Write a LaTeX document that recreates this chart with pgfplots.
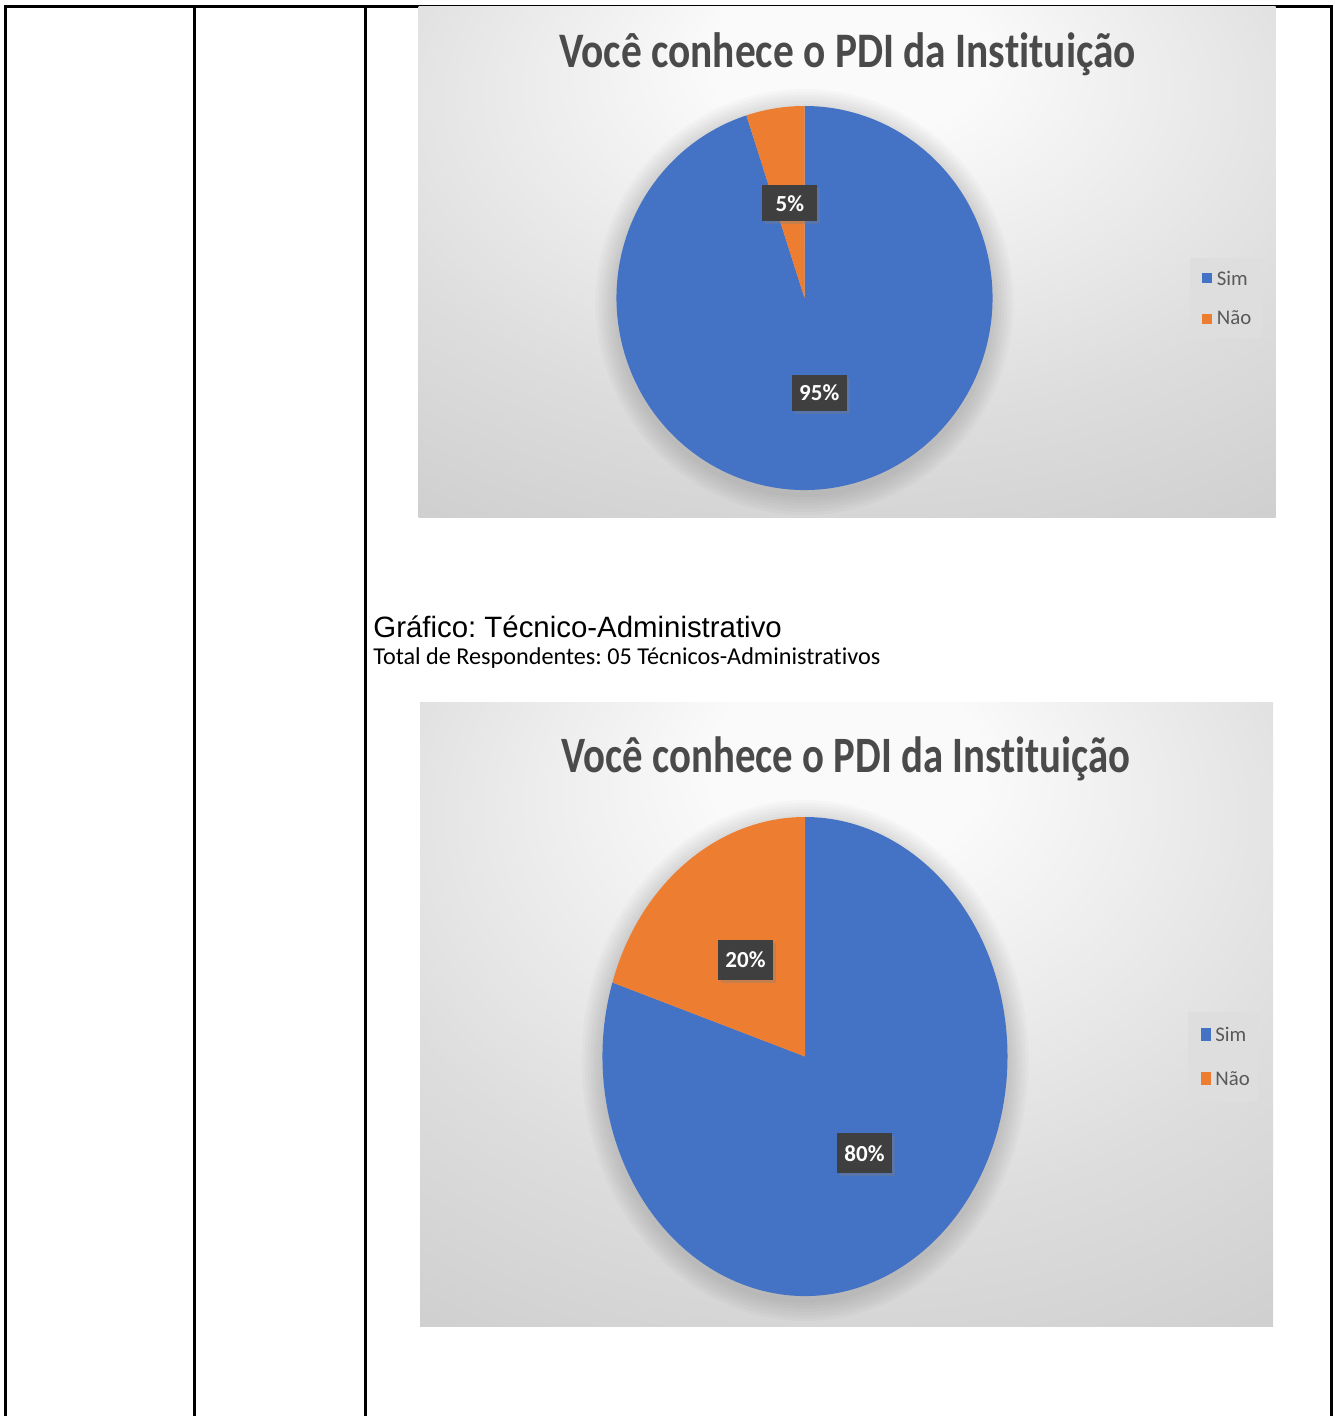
\documentclass[border=0pt]{standalone}
\usepackage{fontspec}
\setmainfont{Carlito}[Ligatures=NoCommon]
\newfontfamily\arial{Liberation Sans}
\usepackage{pgfplots}
\usepackage{pgfplotstable}
\pgfplotsset{compat=1.18}
\usetikzlibrary{shadows}
\frenchspacing

\definecolor{sim}{HTML}{4472C4}
\definecolor{nao}{HTML}{ED7D31}
\definecolor{rotulo}{HTML}{3F3F3F}
\definecolor{titulo}{HTML}{4A4A4A}
\definecolor{legtexto}{HTML}{595959}
\definecolor{legfundo}{HTML}{DEDEDE}
\definecolor{fundoA}{HTML}{FAFAFA}
\definecolor{fundoB}{HTML}{DDDDDD}
\definecolor{fundoC}{HTML}{CBCBCB}
\definecolor{fundoD}{HTML}{BFBFBF}

\pgfdeclareradialshading{fundo}{\pgfpoint{0bp}{22bp}}{color(0bp)=(fundoA); color(8bp)=(fundoA); color(30bp)=(fundoB); color(48bp)=(fundoC); color(85bp)=(fundoD)}

% respostas em %
\pgfplotstableread{
resposta valor
Sim 95
Nao 5
}\dadosA
\pgfplotstableread{
resposta valor
Sim 80
Nao 20
}\dadosB

\pgfplotsset{
  pizza/.style={hide axis, scale only axis, clip=false,
    axis background/.style={shading=fundo}},
}
\tikzset{
  rot/.style={fill=rotulo, text=white, font=\fontsize{11.5}{12}\selectfont\bfseries,
    minimum width=27.5pt, minimum height=18pt, inner sep=1pt,
    drop shadow={shadow xshift=1.5pt, shadow yshift=-1.5pt, opacity=0.35}},
  leg/.style={anchor=base west, inner sep=0pt, text=legtexto, font=\fontsize{10.4}{12}\selectfont},
  sb/.style={black, opacity=0.02},
}

% angulo final da fatia "Nao" (comeca em 12h, sentido horario p/ Sim)
\newcommand\angulos[1]{%
  \pgfplotstablegetelem{1}{valor}\of#1%
  \pgfmathsetmacro\aN{90+3.6*\pgfplotsretval}%
  \pgfmathsetmacro\mN{(90+\aN)/2}%
  \pgfmathsetmacro\mS{(\aN+450)/2}%
}
% sombra suave em volta da pizza
\newcommand\sombra[3]{%
  \fill[sb] ([yshift=-2pt]#1) ellipse[x radius=#2+1.5pt, y radius=#3+1.5pt];
  \fill[sb] ([yshift=-2pt]#1) ellipse[x radius=#2+3pt, y radius=#3+3pt];
  \fill[sb] ([yshift=-2pt]#1) ellipse[x radius=#2+4.5pt, y radius=#3+4.5pt];
  \fill[sb] ([yshift=-2pt]#1) ellipse[x radius=#2+6pt, y radius=#3+6pt];
  \fill[sb] ([yshift=-2pt]#1) ellipse[x radius=#2+7.5pt, y radius=#3+7.5pt];
  \fill[sb] ([yshift=-2pt]#1) ellipse[x radius=#2+9pt, y radius=#3+9pt];
  \fill[sb] ([yshift=-2pt]#1) ellipse[x radius=#2+10.5pt, y radius=#3+10.5pt];
}

\begin{document}
\begin{tikzpicture}[x=0.5pt, y=-0.5pt]
\useasboundingbox (0,0) rectangle (1334,1416);

% tabela
\draw[line width=1.5pt] (5,1416) -- (5,7) -- (1331,7) -- (1331,1416);
\draw[line width=1.5pt] (194,7) -- (194,1416);
\draw[line width=1.5pt] (365,7) -- (365,1416);

% grafico 1
\angulos\dadosA
\begin{axis}[pizza, at={(209.25pt,-258.5pt)}, anchor=south west,
  width=428.5pt, height=255pt, xmin=0, xmax=857, ymin=0, ymax=510]
\sombra{axis cs:386,219}{94pt}{96pt}
\fill[sim] (axis cs:386,219) -- ++(\aN:94pt and 96pt)
  arc[start angle=\aN, end angle=450, x radius=94pt, y radius=96pt] -- cycle;
\fill[nao] (axis cs:386,219) -- ++(90:94pt and 96pt)
  arc[start angle=90, end angle=\aN, x radius=94pt, y radius=96pt] -- cycle;
\node[rot] at ([shift={(\mN:47pt and 48pt)}]axis cs:386,219) {5\%};
\node[rot] at ([shift={(\mS:47pt and 48pt)}]axis cs:386,219) {95\%};
\node[anchor=base, inner sep=0pt, text=titulo, font=\fontsize{20.7}{24}\selectfont\bfseries]
  at (axis cs:429,449) {\scalebox{1}[1.2]{Você conhece o PDI da Instituição}};
\fill[legfundo] (axis cs:771,259) rectangle (axis cs:843,179);
\fill[sim] (axis cs:783,244) rectangle (axis cs:793,234);
\fill[nao] (axis cs:783,203) rectangle (axis cs:793,193);
\node[leg] at (axis cs:798,231) {Sim};
\node[leg] at (axis cs:798,192) {Não};
\end{axis}

% textos
\node[anchor=base west, inner sep=0pt, font=\arial\fontsize{14.7}{16}\selectfont]
  at (373,637) {Gráfico: Técnico-Administrativo};
\node[anchor=base west, inner sep=0pt, font=\fontsize{12.1}{14}\selectfont]
  at (373,664) {Total de Respondentes: 05 Técnicos-Administrativos};

% grafico 2
\angulos\dadosB
\begin{axis}[pizza, at={(210pt,-663pt)}, anchor=south west,
  width=426.5pt, height=312pt, xmin=0, xmax=853, ymin=0, ymax=624]
\sombra{axis cs:385,269.5}{101.25pt}{119.75pt}
\fill[sim] (axis cs:385,269.5) -- ++(\aN:101.25pt and 119.75pt)
  arc[start angle=\aN, end angle=450, x radius=101.25pt, y radius=119.75pt] -- cycle;
\fill[nao] (axis cs:385,269.5) -- ++(90:101.25pt and 119.75pt)
  arc[start angle=90, end angle=\aN, x radius=101.25pt, y radius=119.75pt] -- cycle;
\node[rot, minimum height=20pt] at ([shift={(\mN:50.6pt and 59.9pt)}]axis cs:385,269.5) {20\%};
\node[rot, minimum height=20pt] at ([shift={(\mS:50.6pt and 59.9pt)}]axis cs:385,269.5) {80\%};
\node[anchor=base, inner sep=0pt, text=titulo, font=\fontsize{20.4}{24}\selectfont\bfseries]
  at (axis cs:426,554) {\scalebox{1}[1.25]{Você conhece o PDI da Instituição}};
\fill[legfundo] (axis cs:768,314) rectangle (axis cs:838,224);
\fill[sim] (axis cs:781,298) rectangle (axis cs:791,285);
\fill[nao] (axis cs:781,254) rectangle (axis cs:791,241);
\node[leg] at (axis cs:795,285) {Sim};
\node[leg] at (axis cs:795,241) {Não};
\end{axis}
\end{tikzpicture}
\end{document}
